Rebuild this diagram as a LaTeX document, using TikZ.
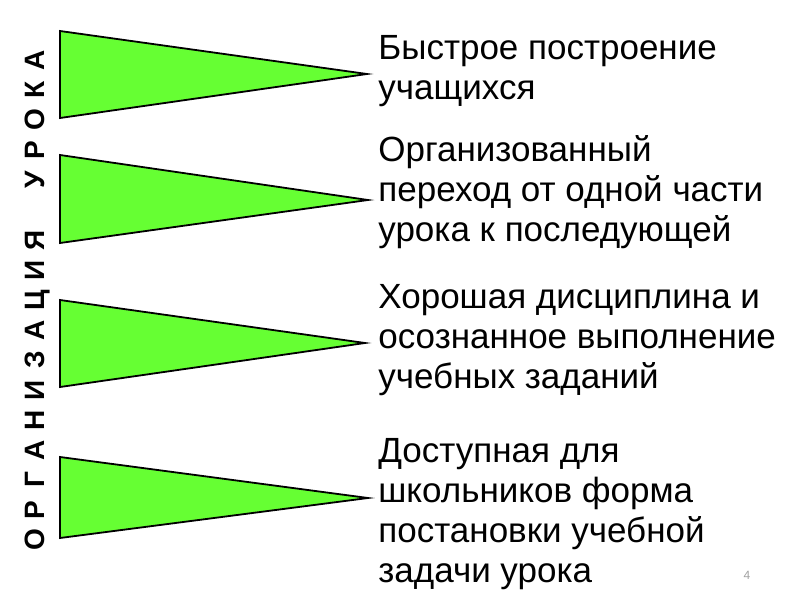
\documentclass[tikz,border=0pt]{standalone}
\usepackage{fontspec}
\setmainfont{Liberation Sans}
\usepackage{xcolor}
\usetikzlibrary{positioning}
\definecolor{leaf}{HTML}{66FF33}
\definecolor{ink}{HTML}{000000}
\definecolor{muted}{HTML}{A0A0A0}
\tikzset{
  flag/.style={draw=ink,fill=leaf,line width=0.9pt,line join=miter},
  item/.style={anchor=base west,align=left,inner sep=0pt,text=ink,font=\fontsize{17.5}{20}\selectfont},
  vlet/.style={rotate=90,inner sep=0pt,text height=10pt,text depth=0pt,text=ink,font=\fontsize{14}{14}\selectfont\bfseries},
  pnum/.style={font=\fontsize{6}{6}\selectfont,text=muted},
}
\begin{document}
\begin{tikzpicture}[x=0.5pt,y=-0.5pt]
    \useasboundingbox (0,0) rectangle (800,600);
    % vertical title
    \foreach \ch [count=\i from 0] in {О,Р,Г,А,Н,И,З,А,Ц,И,Я}
      \node[vlet] (org\i) at (35,{540-30*\i}) {\ch};
    \foreach \ch [count=\i from 0] in {У,Р,О,К,А}
      \node[vlet] (urk\i) at (35,{180-30*\i}) {\ch};
    % green flags
    \foreach \t/\b/\tx/\ty [count=\k] in {31/118/367/74,155/243/368/200,300/387/365/343,457/538/368/498} {
      \coordinate (tip\k) at (\tx,\ty);
      \draw[flag] (60,\t) -- (60,\b) -- (tip\k) -- cycle;
    }
    % texts, placed by the baseline of their last line
    \node[item] (t1) at (378,99) {Быстрое построение\\учащихся};
    \node[item] (t2) at (378,241) {Организованный\\переход от одной части\\урока к последующей};
    \node[item] (t3) at (378,388) {Хорошая дисциплина и\\осознанное выполнение\\учебных заданий};
    \node[item] (t4) at (378,582) {Доступная для\\школьников форма\\постановки учебной\\задачи урока};
    \node[pnum] (pg) at (747,575) {4};
  \end{tikzpicture}
\end{document}
